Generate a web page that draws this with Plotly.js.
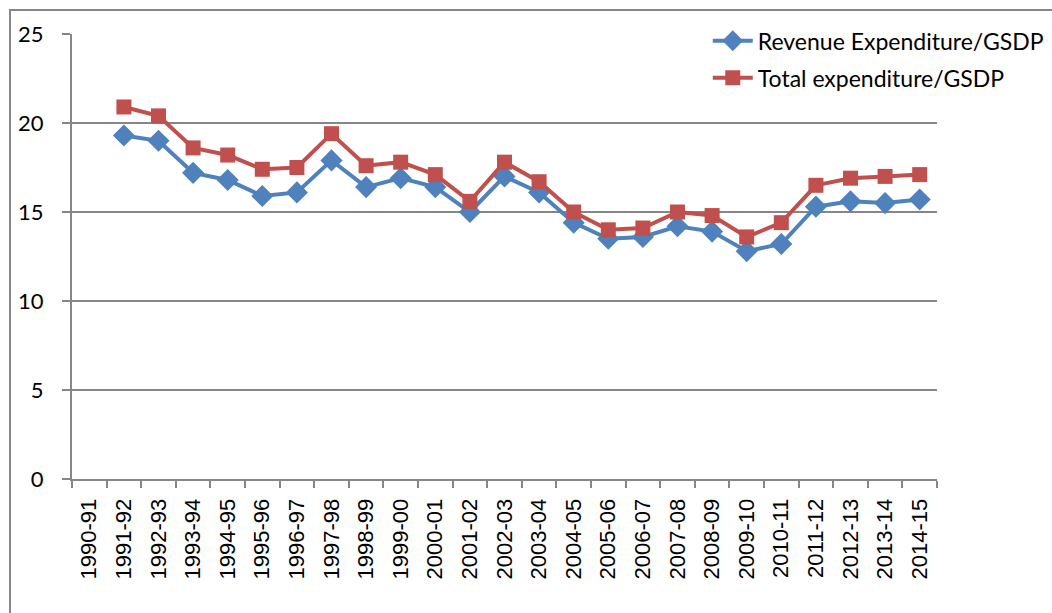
<!DOCTYPE html>
<html>
<head>
<meta charset="utf-8">
<script src="https://cdn.plot.ly/plotly-3.0.1.min.js"></script>
<style>
html,body{margin:0;padding:0;background:#fff;}
#wrap{position:relative;width:1052px;height:613px;overflow:hidden;}
#chart{position:absolute;left:0;top:0;width:1052px;height:613px;}
#frame{position:absolute;left:9px;top:9px;width:1100px;height:700px;border-left:2px solid #868686;border-top:2px solid #868686;pointer-events:none;}
</style>
</head>
<body>
<div id="wrap"><div id="chart"></div><div id="frame"></div></div>
<script>
const years = ["1990-91","1991-92","1992-93","1993-94","1994-95","1995-96","1996-97","1997-98","1998-99","1999-00","2000-01","2001-02","2002-03","2003-04","2004-05","2005-06","2006-07","2007-08","2008-09","2009-10","2010-11","2011-12","2012-13","2013-14","2014-15"];
const revenueExp = [null,19.3,19.0,17.2,16.8,15.9,16.1,17.9,16.4,16.9,16.4,15.0,17.0,16.1,14.4,13.5,13.6,14.2,13.9,12.8,13.2,15.3,15.6,15.5,15.7];
const totalExp = [null,20.9,20.4,18.6,18.2,17.4,17.5,19.4,17.6,17.8,17.1,15.6,17.8,16.7,15.0,14.0,14.1,15.0,14.8,13.6,14.4,16.5,16.9,17.0,17.1];
const seriesNames = ["Revenue Expenditure/GSDP","Total expenditure/GSDP"];
const yTicks = [0,5,10,15,20,25];

const traces = [
  {x: years, y: revenueExp, name: seriesNames[0], legendgroup: 'a', type: 'scatter', mode: 'lines+markers',
   line: {color: '#4F81BD', width: 4}, marker: {symbol: 'diamond', size: 17, color: '#4F81BD'}},
  {x: years, y: totalExp, name: seriesNames[1], legendgroup: 'b', type: 'scatter', mode: 'lines+markers',
   line: {color: '#C0504D', width: 4}, marker: {symbol: 'square', size: 15, color: '#C0504D'}}
];

const layout = {
  width: 1052, height: 613,
  margin: {l: 72, r: 115, t: 34, b: 134, autoexpand: false},
  paper_bgcolor: 'rgba(0,0,0,0)', plot_bgcolor: '#fff',
  showlegend: true,
  legend: {x: 0.735, y: 1.033, xanchor: 'left', yanchor: 'top', bgcolor: 'rgba(255,255,255,0)',
           font: {family: 'Lato, sans-serif', size: 23, color: '#000'}, itemwidth: 40, tracegroupgap: 4},
  xaxis: {type: 'category', categoryorder: 'array', categoryarray: years, range: [-0.5, 24.5],
          tickmode: 'array', tickvals: years, ticktext: years,
          tickson: 'boundaries', ticks: 'outside', ticklen: 7, tickwidth: 2, tickcolor: '#868686',
          showline: true, linecolor: '#868686', linewidth: 2, showgrid: false, zeroline: false,
          tickangle: -90, tickfont: {family: 'Liberation Sans, Arial, sans-serif', size: 22, color: '#000'},
          ticklabelstandoff: 9, fixedrange: true, automargin: false},
  yaxis: {range: [0, 25], tickvals: yTicks, ticks: 'outside', ticklen: 8, tickwidth: 2, tickcolor: '#868686',
          showline: true, linecolor: '#868686', linewidth: 2, showgrid: true, gridcolor: '#868686', gridwidth: 2,
          zeroline: false, tickfont: {family: 'Lato, sans-serif', size: 22, color: '#000'},
          ticklabelstandoff: 14, fixedrange: true, automargin: false}
};

Plotly.newPlot('chart', traces, layout, {staticPlot: true, displayModeBar: false});
</script>
</body>
</html>
